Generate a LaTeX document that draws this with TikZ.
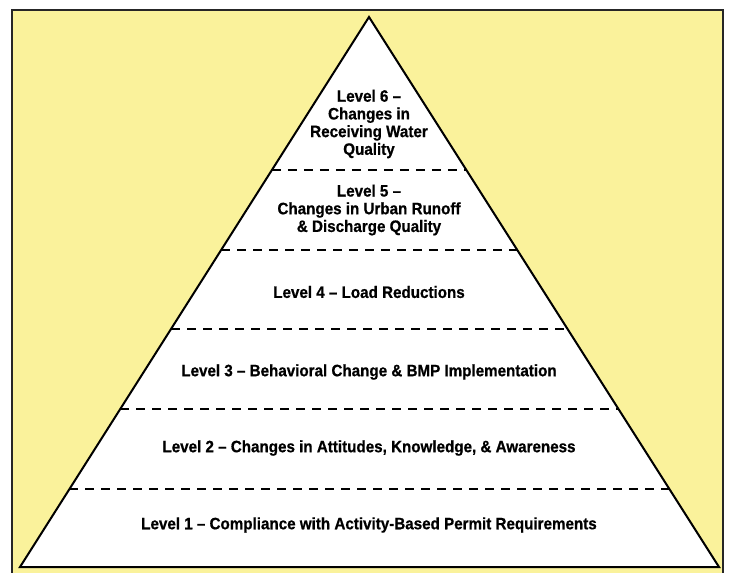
\documentclass[tikz,border=0pt]{standalone}
\usepackage{fontspec}
\setmainfont{Liberation Sans}[FakeStretch=0.92,BoldFeatures={FakeBold=0.7}]
\usetikzlibrary{calc}
\definecolor{paleyellow}{RGB}{250,242,155}

\begin{document}
\begin{tikzpicture}[x=1pt,y=-1pt,
    level/.style={font=\bfseries\fontsize{16.5}{17.7}\selectfont,align=center,inner sep=0pt},
    divider/.style={dash pattern=on 9pt off 7pt,line width=1.8pt}
]
\useasboundingbox (0,0) rectangle (729,573);

% Tlo
\fill[paleyellow] (12,10) rectangle (723,573);
\draw[black!85,line width=1.2pt] (12,580) -- (12,10) -- (723,10) -- (723,580);

% Wierzcholki piramidy
\coordinate (apex) at (369,17);
\coordinate (bl) at (20,567);
\coordinate (br) at (719,567);

\filldraw[fill=white,line width=2pt,line join=miter] (apex) -- (br) -- (bl) -- cycle;

% Linie podzialu
\foreach \t in {0.2782,0.4236,0.5673,0.7127,0.8582}
  \draw[divider] ($(apex)!\t!(bl)$) -- ($(apex)!\t!(br)$);

% Poziomy
\node[level] (lvl6) at (369,124) {Level 6 --\\Changes in\\Receiving Water\\Quality};
\node[level] (lvl5) at (369,210) {Level 5 --\\Changes in Urban Runoff\\\& Discharge Quality};
\node[level] (lvl4) at (369,292) {Level 4 -- Load Reductions};
\node[level] (lvl3) at (369,372) {Level 3 -- Behavioral Change \& BMP Implementation};
\node[level] (lvl2) at (369,448) {Level 2 -- Changes in Attitudes, Knowledge, \& Awareness};
\node[level] (lvl1) at (369,525) {Level 1 -- Compliance with Activity-Based Permit Requirements};

\end{tikzpicture}
\end{document}
